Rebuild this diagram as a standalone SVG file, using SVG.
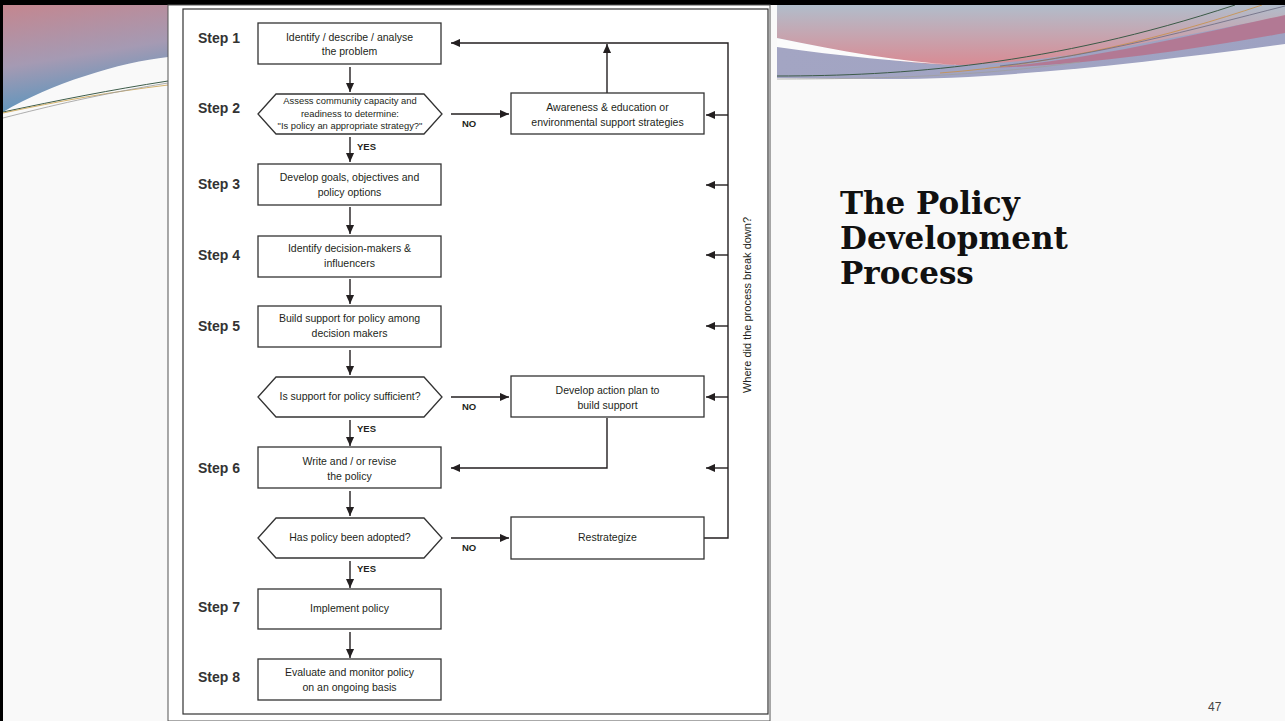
<svg xmlns="http://www.w3.org/2000/svg" width="1285" height="721" viewBox="0 0 1285 721">
  <defs>
    <linearGradient id="gLeft" x1="0" y1="0" x2="0.25" y2="1">
      <stop offset="0" stop-color="#c4868f"/>
      <stop offset="0.55" stop-color="#a59ab3"/>
      <stop offset="1" stop-color="#5a95bd"/>
    </linearGradient>
    <linearGradient id="gRight" x1="0" y1="0" x2="0" y2="1">
      <stop offset="0" stop-color="#b1bdcb"/>
      <stop offset="0.5" stop-color="#c6a5b0"/>
      <stop offset="1" stop-color="#d88b94"/>
    </linearGradient>
    <linearGradient id="gBand" x1="0" y1="0" x2="1" y2="0">
      <stop offset="0" stop-color="#a3a5c3"/>
      <stop offset="1" stop-color="#9ea2c2"/>
    </linearGradient>
    <marker id="ah" viewBox="0 0 10 10" refX="10" refY="5" markerWidth="9" markerHeight="9" markerUnits="userSpaceOnUse" orient="auto">
      <path d="M0,0.5 L10,5 L0,9.5 Z" fill="#231f20"/>
    </marker>
    <style>
      .box { fill: #ffffff; stroke: #333333; stroke-width: 1.3; }
      .t { font-family: "Liberation Sans", Arial, sans-serif; font-size: 10.5px; fill: #231f20; text-anchor: middle; }
      .ts { font-family: "Liberation Sans", Arial, sans-serif; font-size: 9.4px; fill: #231f20; text-anchor: middle; }
      .step { font-family: "Liberation Sans", Arial, sans-serif; font-size: 14px; font-weight: bold; fill: #333333; }
      .lbl { font-family: "Liberation Sans", Arial, sans-serif; font-size: 9.5px; font-weight: bold; fill: #231f20; }
      .ln { fill: none; stroke: #231f20; stroke-width: 1.4; }
      .arr { fill: none; stroke: #231f20; stroke-width: 1.4; marker-end: url(#ah); }
      .title { font-family: "DejaVu Serif", "Liberation Serif", serif; font-size: 31px; font-weight: bold; fill: #111111; }
    </style>
  </defs>

  <!-- slide background and frame -->
  <rect x="0" y="0" width="1285" height="721" fill="#f9f9f9"/>

  <!-- top-left swoosh -->
  <g id="decor-left">
    <path d="M3,5 H168 V57 C120,62 50,84 3,112 Z" fill="url(#gLeft)"/>
    <path d="M3,112 C60,100 110,90 168,81" fill="none" stroke="#3d5c4a" stroke-width="1"/>
    <path d="M3,113 C60,101 110,92 168,85" fill="none" stroke="#c9a049" stroke-width="0.8"/>
    <path d="M3,118 C50,106 100,94 168,83" fill="none" stroke="#9a9a9a" stroke-width="0.8"/>
  </g>

  <!-- top-right swoosh -->
  <g id="decor-right">
    <path d="M777,5 H1285 V44 C1150,62 1000,80 880,79 L777,78 Z" fill="url(#gBand)"/>
    <path d="M777,5 H1285 V16 C1160,40 1060,62 960,65 C900,65 840,51 777,38 Z" fill="url(#gRight)"/>
    <path d="M777,38 C840,51 900,62 958,65 C900,62 840,56 777,47 Z" fill="#fbfbfb"/>
    <path d="M985,68 C1080,62 1180,38 1285,15 V33 C1180,52 1080,66 985,68 Z" fill="#b5728c" opacity="0.85"/>
    <path d="M777,76 C900,76 1050,66 1235,5" fill="none" stroke="#3b5a47" stroke-width="1"/>
    <path d="M940,73 C1060,64 1170,36 1262,5" fill="none" stroke="#c98f44" stroke-width="0.8"/>
    <path d="M1000,66 C1100,55 1190,30 1285,6" fill="none" stroke="#6a6a80" stroke-width="0.8"/>
    <path d="M777,79 C880,79 980,76 1080,62" fill="none" stroke="#a0a0a0" stroke-width="0.8"/>
  </g>

  <rect x="0" y="0" width="1285" height="5" fill="#000000"/>
  <rect x="0" y="0" width="3" height="721" fill="#000000"/>

  <!-- flowchart panel -->
  <g id="panel">
    <rect x="168" y="5" width="602" height="716" fill="#ffffff" stroke="#555555" stroke-width="1"/>
    <rect x="183" y="9" width="585" height="705" fill="none" stroke="#333333" stroke-width="1.2"/>
  </g>

  <!-- step labels -->
  <g id="step-labels">
    <text class="step" x="198" y="43">Step 1</text>
    <text class="step" x="198" y="113">Step 2</text>
    <text class="step" x="198" y="189">Step 3</text>
    <text class="step" x="198" y="260">Step 4</text>
    <text class="step" x="198" y="331">Step 5</text>
    <text class="step" x="198" y="473">Step 6</text>
    <text class="step" x="198" y="612">Step 7</text>
    <text class="step" x="198" y="682">Step 8</text>
  </g>

  <!-- connectors -->
  <g id="connectors">
    <path class="arr" d="M350,67 V92"/>
    <path class="arr" d="M350,137 V162"/>
    <path class="arr" d="M451,114 H509"/>
    <path class="arr" d="M607,93 V44"/>
    <path class="arr" d="M704,538 H728 V43 H451"/>
    <path class="arr" d="M728,115 H706"/>
    <path class="arr" d="M728,185 H706"/>
    <path class="arr" d="M728,255 H706"/>
    <path class="arr" d="M728,326 H706"/>
    <path class="arr" d="M728,397 H706"/>
    <path class="arr" d="M728,468 H706"/>
    <path class="arr" d="M350,207 V234"/>
    <path class="arr" d="M350,279 V304"/>
    <path class="arr" d="M350,350 V375"/>
    <path class="arr" d="M451,397 H509"/>
    <path class="arr" d="M350,420 V446"/>
    <path class="arr" d="M607,418 V468 H451"/>
    <path class="arr" d="M350,491 V516"/>
    <path class="arr" d="M451,538 H509"/>
    <path class="arr" d="M350,561 V588"/>
    <path class="arr" d="M350,632 V658"/>
    <text class="lbl" x="357" y="150">YES</text>
    <text class="lbl" x="462" y="127">NO</text>
    <text class="lbl" x="357" y="432">YES</text>
    <text class="lbl" x="462" y="410">NO</text>
    <text class="lbl" x="357" y="572">YES</text>
    <text class="lbl" x="462" y="551">NO</text>
    <text class="t" transform="translate(751,305) rotate(-90)" style="font-size:11px">Where did the process break down?</text>
  </g>

  <!-- nodes -->
  <g id="n-step1">
    <rect class="box" x="258" y="23" width="183" height="41"/>
    <text class="t" x="349.5" y="41">Identify / describe / analyse</text>
    <text class="t" x="349.5" y="55">the problem</text>
  </g>
  <g id="n-step2">
    <polygon class="box" points="258,114 276,94 424,94 442,114 424,134 276,134"/>
    <text class="ts" x="350" y="104">Assess community capacity and</text>
    <text class="ts" x="350" y="117">readiness to determine:</text>
    <text class="ts" x="350" y="129">"Is policy an appropriate strategy?"</text>
  </g>
  <g id="n-awareness">
    <rect class="box" x="511" y="93" width="193" height="41"/>
    <text class="t" x="607.5" y="111">Awareness &amp; education or</text>
    <text class="t" x="607.5" y="126">environmental support strategies</text>
  </g>
  <g id="n-step3">
    <rect class="box" x="258" y="164" width="183" height="41"/>
    <text class="t" x="349.5" y="181">Develop goals, objectives and</text>
    <text class="t" x="349.5" y="196">policy options</text>
  </g>
  <g id="n-step4">
    <rect class="box" x="258" y="236" width="183" height="41"/>
    <text class="t" x="349.5" y="252">Identify decision-makers &amp;</text>
    <text class="t" x="349.5" y="267">influencers</text>
  </g>
  <g id="n-step5">
    <rect class="box" x="258" y="306" width="183" height="41"/>
    <text class="t" x="349.5" y="322">Build support for policy among</text>
    <text class="t" x="349.5" y="337">decision makers</text>
  </g>
  <g id="n-sufficient">
    <polygon class="box" points="258,397 276,377 424,377 442,397 424,417 276,417"/>
    <text class="t" x="350" y="400">Is support for policy sufficient?</text>
  </g>
  <g id="n-actionplan">
    <rect class="box" x="511" y="376" width="193" height="41"/>
    <text class="t" x="607.5" y="394">Develop action plan to</text>
    <text class="t" x="607.5" y="409">build support</text>
  </g>
  <g id="n-step6">
    <rect class="box" x="258" y="447" width="183" height="41"/>
    <text class="t" x="349.5" y="465">Write and / or revise</text>
    <text class="t" x="349.5" y="480">the policy</text>
  </g>
  <g id="n-adopted">
    <polygon class="box" points="258,538 276,518 424,518 442,538 424,558 276,558"/>
    <text class="t" x="350" y="541">Has policy been adopted?</text>
  </g>
  <g id="n-restrategize">
    <rect class="box" x="511" y="517" width="193" height="42"/>
    <text class="t" x="607.5" y="541">Restrategize</text>
  </g>
  <g id="n-step7">
    <rect class="box" x="258" y="589" width="183" height="40"/>
    <text class="t" x="349.5" y="612">Implement policy</text>
  </g>
  <g id="n-step8">
    <rect class="box" x="258" y="659" width="183" height="41"/>
    <text class="t" x="349.5" y="676">Evaluate and monitor policy</text>
    <text class="t" x="349.5" y="691">on an ongoing basis</text>
  </g>

  <!-- slide title and number -->
  <g id="title">
    <text class="title" x="840" y="214">The Policy</text>
    <text class="title" x="840" y="249">Development</text>
    <text class="title" x="840" y="284">Process</text>
  </g>
  <text x="1208" y="711" font-family="Liberation Sans, Arial, sans-serif" font-size="12" fill="#444444">47</text>
</svg>
